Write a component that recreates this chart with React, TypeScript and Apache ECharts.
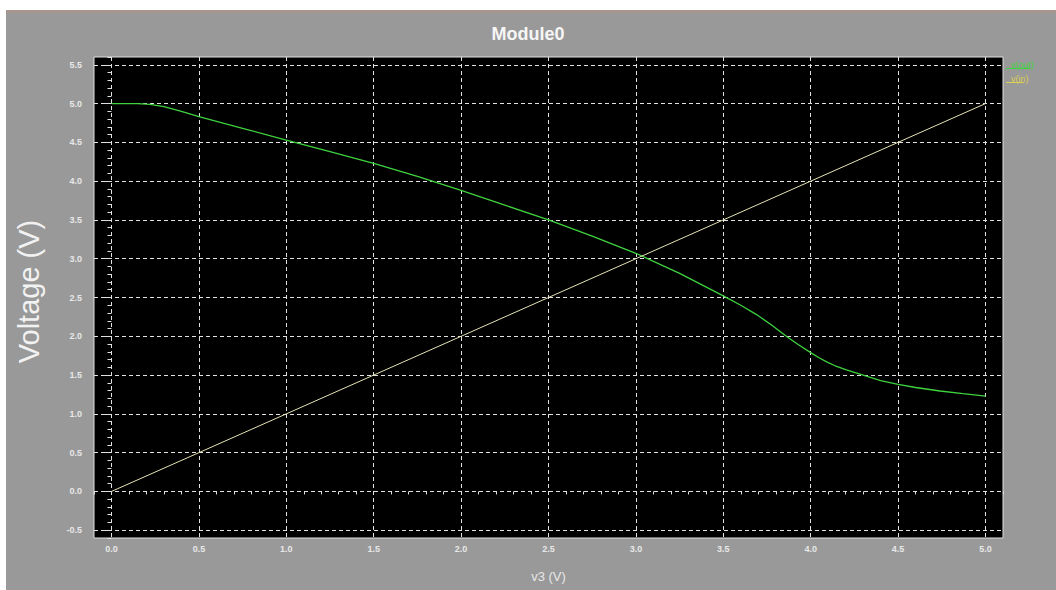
import React, { useEffect, useRef } from 'react';
import * as echarts from 'echarts';

// ---- data ----
const xMajorTicks = [0, 0.5, 1, 1.5, 2, 2.5, 3, 3.5, 4, 4.5, 5];
const yMajorTicks = [-0.5, 0, 0.5, 1, 1.5, 2, 2.5, 3, 3.5, 4, 4.5, 5, 5.5];

const vinX = [0, 5];
const vinY = [0, 5];

const voutX = [0, 0.15, 0.22, 0.3, 0.4, 0.5, 0.75, 1.0, 1.25, 1.5, 1.75, 2.0, 2.25, 2.5, 2.75, 3.0, 3.25, 3.5, 3.6, 3.69, 3.78, 3.86, 3.93, 4.0, 4.05, 4.1, 4.14, 4.2, 4.3, 4.4, 4.5, 4.6, 4.74, 4.87, 5.0];
const voutY = [5.0, 5.0, 4.99, 4.96, 4.9, 4.83, 4.68, 4.53, 4.38, 4.23, 4.06, 3.88, 3.69, 3.5, 3.29, 3.07, 2.81, 2.52, 2.4, 2.28, 2.14, 2.0, 1.89, 1.79, 1.72, 1.66, 1.62, 1.57, 1.5, 1.43, 1.38, 1.34, 1.295, 1.26, 1.23];

const seriesNames = ['v(out)', 'v(in)'];

const GREEN = '#3fd23f';
const CREAM = '#e6e4b4';
const LEG_YELLOW = '#dccd55';
const TXT = '#e8e8e8';
const fmt = (v: number) => v.toFixed(1);

export default function App() {
  const ref = useRef<HTMLDivElement>(null);

  useEffect(() => {
    if (!ref.current) return;
    const chart = echarts.init(ref.current, undefined, { renderer: 'svg' });
    const tickLabelStyle = {
      color: TXT,
      fontSize: 9,
      fontWeight: 'bold' as const,
      fontFamily: "'Liberation Sans', Arial, sans-serif",
    };
    const splitLineStyle = {
      show: true,
      lineStyle: { color: '#e2e2e2', width: 1, type: [4, 3] as any },
    };
    chart.setOption({
      animation: false,
      backgroundColor: 'transparent',
      title: {
        text: 'Module0',
        left: 'center',
        top: 20,
        textStyle: {
          color: '#f6f6f6',
          fontSize: 18,
          fontWeight: 'bold',
          fontFamily: "'Liberation Sans', Arial, sans-serif",
        },
      },
      legend: {
        orient: 'vertical',
        left: 1001,
        top: 55,
        icon: 'none',
        itemWidth: 0,
        itemHeight: 10,
        itemGap: 4,
        selectedMode: false,
        lineStyle: { width: 0, opacity: 0 },
        itemStyle: { opacity: 0 },
        textStyle: { fontSize: 9, fontFamily: "'Liberation Sans', Arial, sans-serif" },
        data: [
          { name: seriesNames[0], textStyle: { color: GREEN } },
          { name: seriesNames[1], textStyle: { color: LEG_YELLOW } },
        ],
      },
      grid: {
        left: 94,
        top: 57,
        width: 909,
        height: 481,
        show: true,
        backgroundColor: '#000000',
        borderColor: '#e0e0e0',
        borderWidth: 1,
      },
      xAxis: [
        {
          type: 'value',
          min: -0.1,
          max: 5.1,
          position: 'bottom',
          name: 'v3 (V)',
          nameLocation: 'middle',
          nameGap: 32,
          nameTextStyle: { color: TXT, fontSize: 13, fontFamily: "'Liberation Sans', Arial, sans-serif" },
          axisLine: { show: false },
          axisTick: { show: true, customValues: xMajorTicks, length: 3, lineStyle: { color: '#e0e0e0' } },
          axisLabel: { ...tickLabelStyle, customValues: xMajorTicks, formatter: fmt, margin: 6 },
          splitLine: splitLineStyle,
        },
        {
          type: 'value',
          min: -0.1,
          max: 5.1,
          interval: 0.1,
          position: 'bottom',
          axisLine: { show: false },
          axisTick: { show: true, length: 3, lineStyle: { color: '#e0e0e0' } },
          axisLabel: { show: false },
          splitLine: { show: false },
        },
      ],
      yAxis: [
        {
          type: 'value',
          min: -0.6,
          max: 5.6,
          position: 'left',
          name: 'Voltage (V)',
          nameLocation: 'middle',
          nameGap: 51,
          nameRotate: 90,
          nameTextStyle: { color: '#f2f2f2', fontSize: 29, fontFamily: "'Liberation Sans', Arial, sans-serif", padding: [0, 0, 0, 12] },
          axisLine: { show: false },
          axisTick: { show: true, customValues: yMajorTicks, length: 8, lineStyle: { color: '#e0e0e0' } },
          axisLabel: { ...tickLabelStyle, customValues: yMajorTicks, formatter: fmt, margin: 12 },
          splitLine: splitLineStyle,
        },
        {
          type: 'value',
          min: -0.6,
          max: 5.6,
          interval: 0.1,
          position: 'left',
          axisLine: { show: false },
          axisTick: { show: true, length: 4, lineStyle: { color: '#e0e0e0' } },
          axisLabel: { show: false },
          splitLine: { show: false },
        },
      ],
      graphic: [
        { type: 'line', silent: true, shape: { x1: 1006, y1: 68.5, x2: 1030, y2: 68.5 }, style: { stroke: GREEN, lineWidth: 1 } },
        { type: 'line', silent: true, shape: { x1: 1006, y1: 82.5, x2: 1024, y2: 82.5 }, style: { stroke: LEG_YELLOW, lineWidth: 1 } },
      ],
      series: [
        {
          name: seriesNames[0],
          type: 'line',
          xAxisIndex: 0,
          yAxisIndex: 0,
          showSymbol: false,
          smooth: false,
          lineStyle: { color: GREEN, width: 1.3 },
          itemStyle: { color: GREEN },
          data: voutX.map((x, i) => [x, voutY[i]]),
        },
        {
          name: seriesNames[1],
          type: 'line',
          xAxisIndex: 0,
          yAxisIndex: 0,
          showSymbol: false,
          lineStyle: { color: CREAM, width: 1 },
          itemStyle: { color: CREAM },
          data: vinX.map((x, i) => [x, vinY[i]]),
        },
      ],
    });
    return () => chart.dispose();
  }, []);

  return (
    <div style={{ position: 'fixed', left: 0, top: 0, width: 1056, height: 590, background: '#ffffff', overflow: 'hidden' }}>
      <div
        style={{
          position: 'absolute',
          left: 6,
          top: 10,
          width: 1050,
          height: 580,
          background: '#999999',
          borderTop: '3px solid #a8958f',
          boxSizing: 'border-box',
        }}
      />
      <div ref={ref} style={{ position: 'absolute', left: 0, top: 0, width: 1056, height: 590 }} />
    </div>
  );
}
